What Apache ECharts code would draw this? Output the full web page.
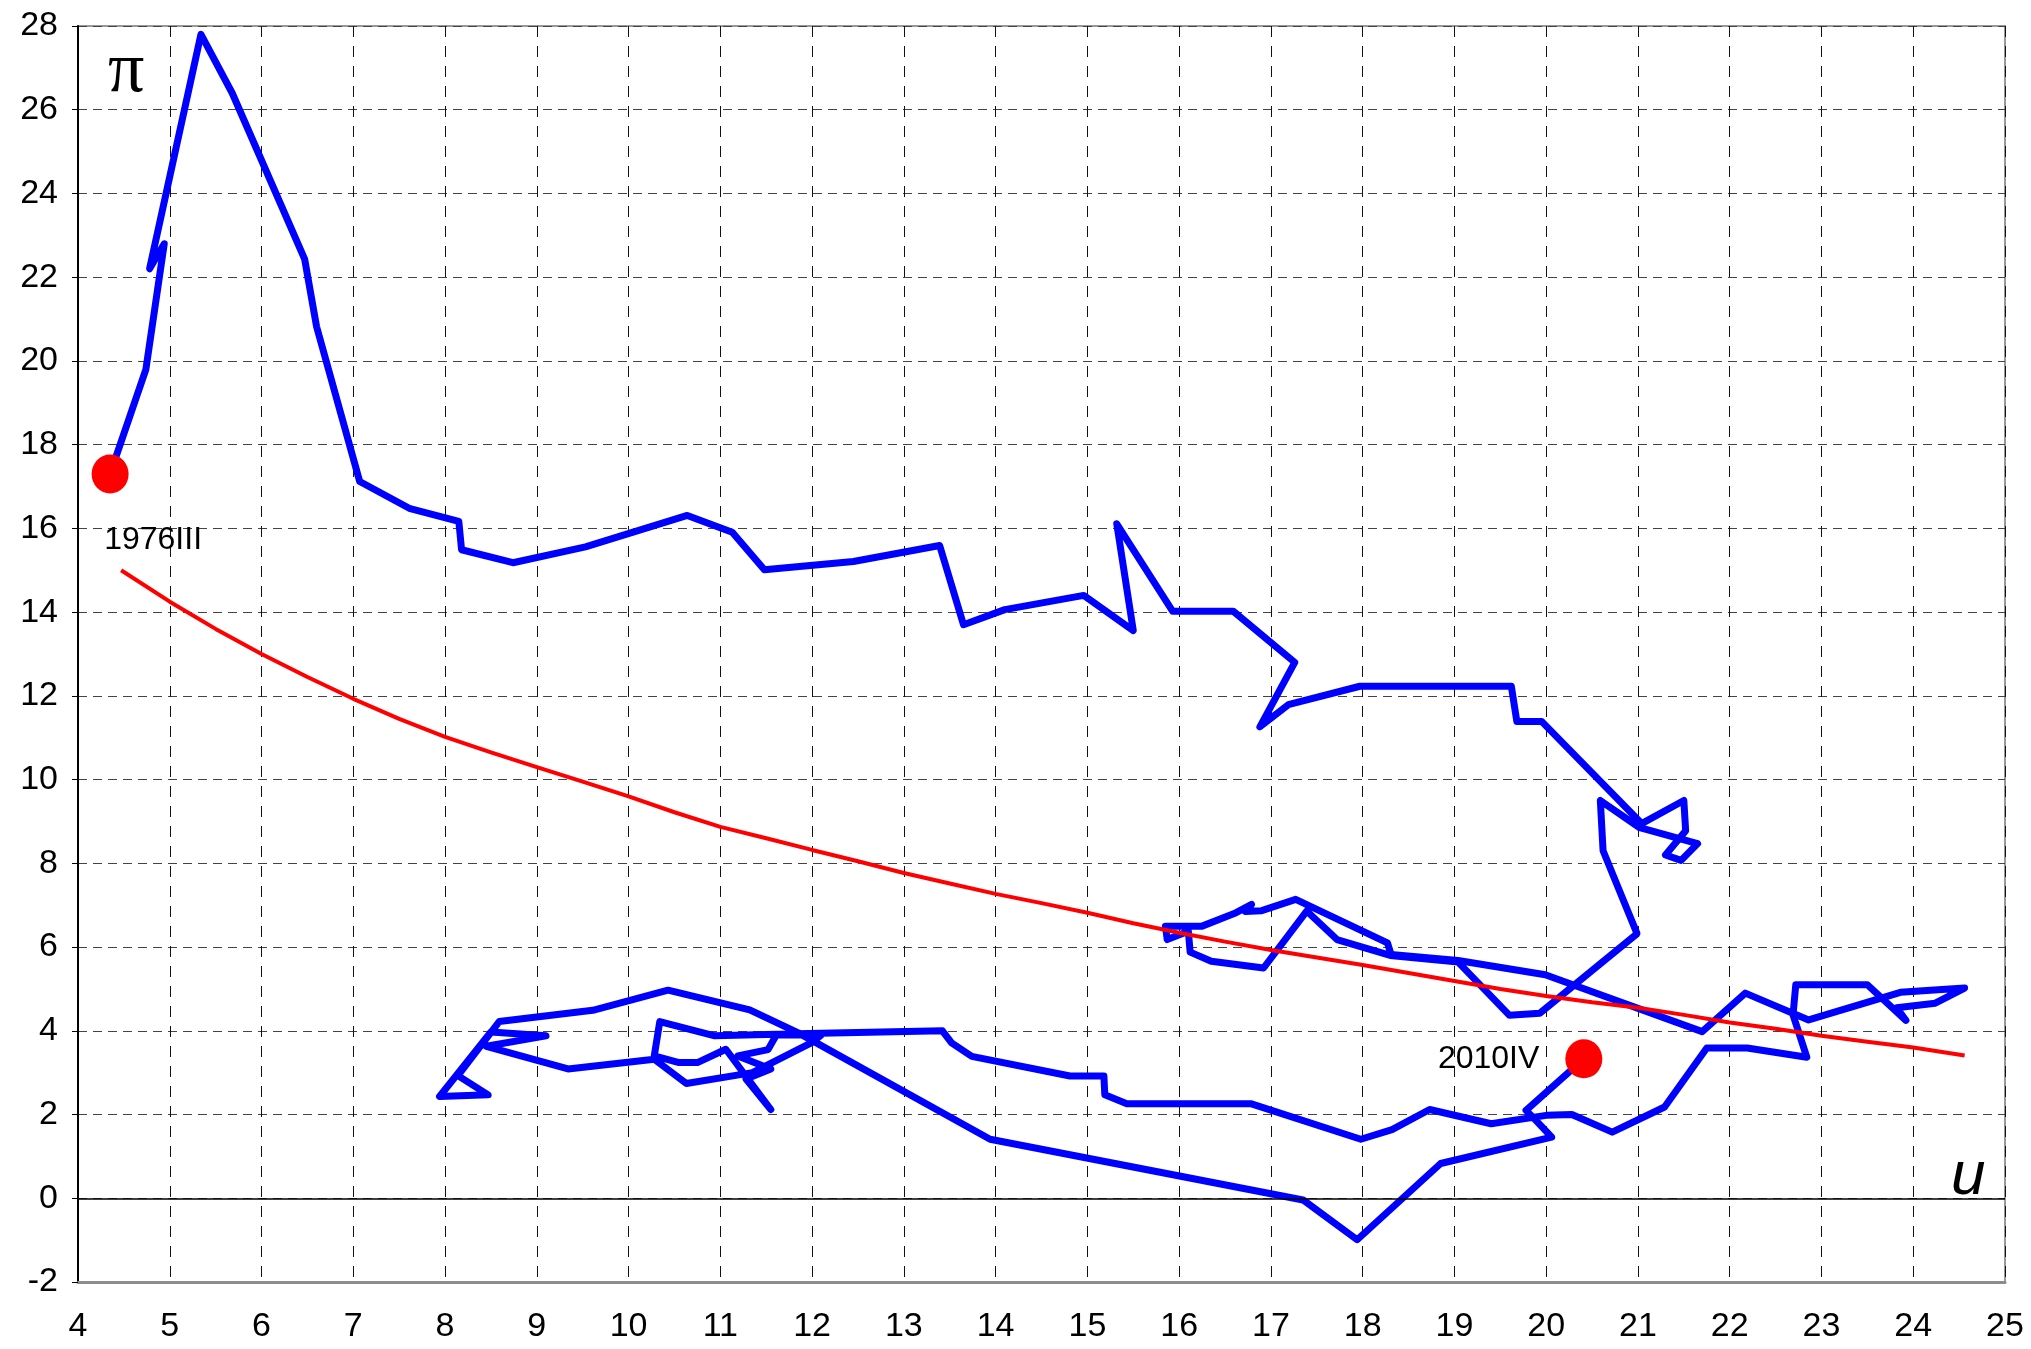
<!DOCTYPE html>
<html>
<head>
<meta charset="utf-8">
<script src="https://cdn.jsdelivr.net/npm/echarts@6.0.0/dist/echarts.min.js"></script>
<style>
  html, body { margin: 0; padding: 0; background: #fff; }
  #root { width: 2031px; height: 1349px; }
</style>
</head>
<body>
<div id="root"></div>
<script>
// blue path: unemployment u (%) and inflation pi (%), quarter by quarter
const pathU = [
  4.35, 4.74, 4.94, 4.78, 5.34, 5.68, 6.47, 6.6, 7.07, 7.62,
  8.15, 8.18, 8.74, 9.53, 10.64, 11.13, 11.48, 12.45, 13.39, 13.65,
  14.1, 14.96, 15.5, 15.32, 15.93, 16.59, 17.26, 16.88, 17.19, 17.97,
  19.62, 19.68, 19.95, 21.04, 21.5, 21.52, 21.3, 21.47, 21.65, 21.02,
  20.59, 20.62, 20.99, 19.93, 19.6, 19.04, 18.3, 17.72, 17.39, 16.92,
  16.35, 16.12, 16.1, 15.87, 15.85, 16.25, 16.6, 16.79, 16.72, 16.9,
  17.27, 18.27, 18.31, 19.04, 19.99, 21.7, 22.17, 22.86, 23.86, 24.56,
  24.24, 23.82, 23.92, 23.5, 22.72, 22.69, 22.84, 22.19, 21.75, 21.29,
  20.72, 20.28, 20.0, 19.4, 18.73, 18.32, 17.98, 16.78, 15.43, 15.19,
  15.18, 14.81, 13.74, 13.52, 13.42, 11.83, 10.94, 10.34, 10.28, 10.55,
  10.75, 11.06, 11.55, 11.28, 11.55, 11.19, 11.52, 11.61, 12.1, 11.99,
  11.35, 10.63, 10.28, 9.34, 8.45, 9.1, 8.5, 7.94, 8.47, 8.14,
  8.59, 9.61, 10.43, 11.32, 11.85, 13.94, 17.35, 17.94, 18.85, 20.06,
  19.88, 19.78, 20.41
]
const pathPi = [
  17.3, 19.8, 22.8, 22.2, 27.8, 26.4, 22.43, 20.82, 17.12, 16.47,
  16.17, 15.49, 15.18, 15.56, 16.31, 15.91, 15.01, 15.21, 15.59, 13.7,
  14.06, 14.4, 13.56, 16.11, 14.02, 14.02, 12.8, 11.26, 11.79, 12.23,
  12.23, 11.39, 11.39, 8.95, 9.5, 8.78, 8.2, 8.07, 8.47, 8.85,
  9.5, 8.3, 6.32, 4.42, 4.37, 5.64, 5.8, 6.18, 6.86, 5.5,
  5.66, 5.88, 6.38, 6.18, 6.5, 6.5, 6.8, 7.02, 6.85, 6.87,
  7.14, 6.1, 5.82, 5.68, 5.34, 3.98, 4.9, 4.26, 4.92, 5.02,
  4.66, 4.55, 4.25, 5.1, 5.1, 4.38, 3.37, 3.59, 3.59, 2.18,
  1.58, 2.0, 1.98, 1.78, 2.12, 1.64, 1.41, 2.26, 2.26, 2.47,
  2.92, 2.92, 3.39, 3.71, 4.0, 3.93, 3.88, 4.22, 3.4, 3.24,
  3.24, 3.56, 2.12, 2.85, 3.09, 3.4, 3.55, 3.9, 3.9, 3.71,
  3.0, 2.74, 3.32, 3.09, 3.63, 3.88, 3.97, 2.43, 2.47, 2.93,
  4.22, 4.49, 4.97, 4.5, 3.95, 1.41, -0.04, -0.99, 0.83, 1.46,
  1.88, 2.1, 3.33
]

// red fitted curve
const fitU = [
  4.47, 5, 5.5, 6, 6.5, 7, 7.5, 8, 8.5, 9, 9.5, 10, 10.5, 11, 11.5, 12,
  12.5, 13, 13.5, 14, 14.5, 15, 15.5, 16, 16.5, 17, 17.5, 18, 18.5, 19,
  19.5, 20, 20.5, 21, 21.5, 22, 22.5, 23, 23.5, 24, 24.56
]
const fitPi = [
  15.0, 14.25, 13.6, 13.0, 12.45, 11.93, 11.45, 11.02, 10.65, 10.3, 9.95, 9.6,
  9.22, 8.87, 8.6, 8.32, 8.05, 7.77, 7.52, 7.27, 7.05, 6.82, 6.57, 6.34,
  6.13, 5.93, 5.75, 5.57, 5.38, 5.19, 5.0, 4.83, 4.68, 4.55, 4.38, 4.2,
  4.05, 3.88, 3.74, 3.6, 3.41
]

// marked end points
const dotU = [4.35, 20.41]
const dotPi = [17.3, 3.33]
const dotLabels = ['1976III', '2010IV']

const font = "'Liberation Sans', Arial, sans-serif"

const zip = (xs, ys) => xs.map((x, i) => [x, ys[i]])

const chart = echarts.init(document.getElementById('root'), null, { renderer: 'canvas' })

const option = {
  animation: false,
  backgroundColor: '#fff',
  grid: {
    left: 78, right: 26, top: 26, bottom: 67,
    show: true, borderColor: '#999', borderWidth: 2
  },
  xAxis: {
    type: 'value',
    min: 4, max: 25, interval: 1,
    axisLine: { show: true, onZero: false, lineStyle: { color: '#8c8c8c', width: 3 } },
    axisTick: { show: false },
    axisLabel: { color: '#000', fontSize: 34, fontFamily: font, margin: 28 },
    splitLine: { show: true, lineStyle: { color: '#111', width: 1, type: [11, 9] } }
  },
  yAxis: {
    type: 'value',
    min: -2, max: 28, interval: 2,
    axisLine: { show: true, onZero: false, lineStyle: { color: '#000', width: 2 } },
    axisTick: { show: true, length: 6, lineStyle: { color: '#000', width: 1 } },
    axisLabel: { color: '#000', fontSize: 34, fontFamily: font, margin: 20 },
    splitLine: { show: true, lineStyle: { color: '#444', width: 1, type: [9, 6] } }
  },
  graphic: [
    { type: 'text', left: 108, top: 36, style: { text: '\u03c0', font: '72px "Liberation Serif", "Times New Roman", serif', fill: '#000' } },
    { type: 'text', left: 1951, top: 1146, style: { text: 'u', font: 'italic 62px "Liberation Sans", Arial, sans-serif', fill: '#000' } }
  ],
  series: [
    {
      // zero line
      type: 'line',
      data: [],
      z: 1,
      silent: true,
      markLine: {
        silent: true,
        symbol: 'none',
        label: { show: false },
        lineStyle: { color: '#000', width: 1.5, type: 'solid' },
        data: [{ yAxis: 0 }]
      }
    },
    {
      type: 'line',
      data: zip(pathU, pathPi),
      showSymbol: false,
      z: 3,
      lineStyle: { color: '#0000ff', width: 7, join: 'round', cap: 'round' }
    },
    {
      type: 'line',
      data: zip(fitU, fitPi),
      showSymbol: false,
      z: 4,
      lineStyle: { color: '#ff0000', width: 4 }
    },
    {
      type: 'scatter',
      z: 5,
      symbolSize: [37, 39],
      itemStyle: { color: '#ff0000', opacity: 1 },
      data: zip(dotU, dotPi).map((p, i) => ({
        value: p,
        label: i === 0
          ? { show: true, formatter: dotLabels[i], position: 'bottom', distance: 5, offset: [43, 26] }
          : { show: true, formatter: dotLabels[i], position: 'left', distance: 26 }
      })),
      label: { color: '#000', fontSize: 32, fontFamily: font }
    }
  ]
}

chart.setOption(option)
</script>
</body>
</html>
